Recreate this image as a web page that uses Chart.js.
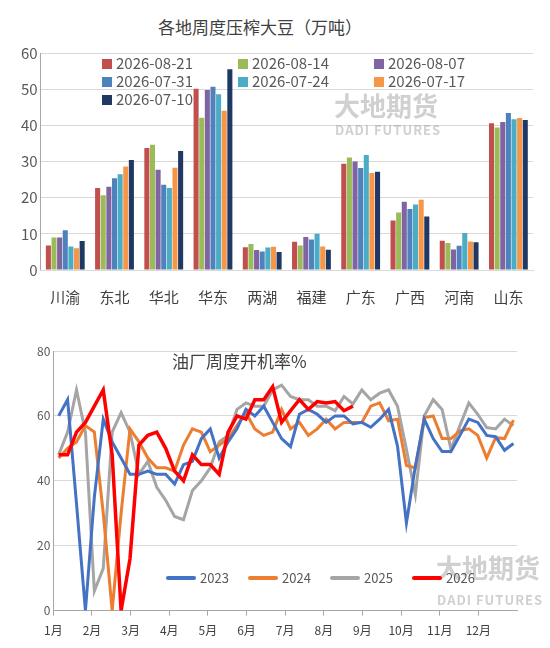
<!DOCTYPE html>
<html><head><meta charset="utf-8">
<script src="https://cdn.jsdelivr.net/npm/chart.js@4"></script>
<style>
body{margin:0;width:550px;height:648px;background:#fff;font-family:"Noto Sans CJK SC","Noto Sans",sans-serif;position:relative;overflow:hidden}
.c{position:absolute;left:0}
.t{position:absolute;color:#404040;white-space:nowrap}
.lg{position:absolute;font-size:15px;color:#595959;white-space:nowrap}
.lg i{display:inline-block;width:10px;height:10px;margin-right:4px;vertical-align:0px}
.wm{position:absolute;color:rgba(150,150,150,0.45);font-weight:bold;white-space:nowrap}
</style></head><body>
<div class="t" style="left:158px;top:14px;font-size:17px">各地周度压榨大豆（万吨）</div>
<div class="c" style="top:0;width:550px;height:320px"><canvas id="a"></canvas></div>
<div class="c" style="top:330px;width:550px;height:318px"><canvas id="b"></canvas></div>
<div class="wm" style="left:334px;top:86px;font-size:26px">大地期货</div>
<div class="wm" style="left:335px;top:120px;font-size:13px;letter-spacing:1px">DADI FUTURES</div>
<div class="wm" style="left:436px;top:548px;font-size:26px">大地期货</div>
<div class="wm" style="left:437px;top:590px;font-size:13px;letter-spacing:1px">DADI FUTURES</div>
<div id="lgA"></div>
<div class="t" style="left:172px;top:348px;font-size:17px">油厂周度开机率%</div>
<div id="lgB"></div>
<script>
const regions=['川渝','东北','华北','华东','两湖','福建','广东','广西','河南','山东'];
const weekLabels=['2026-08-21','2026-08-14','2026-08-07','2026-07-31','2026-07-24','2026-07-17','2026-07-10'];
const barColors=['#C0504D','#9BBB59','#8064A2','#4F81BD','#4BACC6','#F79646','#1F3864'];
const w0821=[6.8,22.7,33.7,50.1,6.3,7.8,29.4,13.7,8.1,40.6];
const w0814=[9.0,20.7,34.6,42.1,7.2,6.8,31.1,15.9,7.5,39.4];
const w0807=[9.0,23.0,27.7,49.8,5.5,9.1,30.0,18.9,5.7,40.9];
const w0731=[11.0,25.4,23.6,50.7,5.1,8.4,28.2,16.9,6.7,43.4];
const w0724=[6.5,26.5,22.7,48.6,6.2,10.0,31.8,18.1,10.2,41.7];
const w0717=[6.0,28.6,28.3,44.0,6.4,6.5,26.8,19.4,7.9,42.0];
const w0710=[8.0,30.4,32.9,55.5,5.0,5.6,27.2,14.8,7.7,41.5];
const barSeries=[w0821,w0814,w0807,w0731,w0724,w0717,w0710];

const months=['1月','2月','3月','4月','5月','6月','7月','8月','9月','10月','11月','12月'];
const years=['2023','2024','2025','2026'];
const lineColors=['#4472C4','#ED7D31','#A5A5A5','#FF0000'];
const y2023=[60,65,33,0,35,59,52,47,42,42,43,42,42,39,45,46,53,56,47,52,56,62,60,63,58,53,50.5,60.5,62,60.5,58,60,60,57.5,58,56.5,59,62,50.7,27,44.5,59,53,49,49,54,59,58,54,53.6,49.4,51.5];
const y2024=[47,50,52,57,55,30,0,30,56,52,47,44,44,43,51,56,55,49,51,53,57,61,56,54,55,62,56,58,54,56,59,56,58,58,58,63,64,58.5,59,44.7,44,59.5,60,53,53,55.4,56,54,47,53.3,53,58.7];
const y2025=[48,55,68,55,6,13,55,61,55,42,46,38,34,29,28,37,40,44,52,54,62,64,63,63,68,69.5,66,65,65,63,63,61.6,66,63.7,68,65,67,68,63,49.7,35.7,60,65,62,49.7,57,64,60.5,56.4,56,59,57];
const y2026=[48,48,55,58,63,68,48,0,16,51,54,55,50,43,40,48,45,45,42,55,60,59,65,65,69,58,61.6,65,62,64.4,64,64.4,61.6,63];
const yearSeries=[y2023,y2024,y2025,y2026];

let h='';
weekLabels.forEach((l,i)=>{const col=i%3,row=Math.floor(i/3);
h+=`<div class="lg" style="left:${102+col*136}px;top:${52+row*18}px"><i style="background:${barColors[i]}"></i>${l}</div>`;});
document.getElementById('lgA').innerHTML=h;
h='';
years.forEach((y,i)=>{h+=`<div class="lg" style="left:${166+i*82}px;top:568px;font-size:13px"><i style="width:30px;height:4px;border-radius:2px;vertical-align:3px;background:${lineColors[i]}"></i>${y}</div>`;});
document.getElementById('lgB').innerHTML=h;

Chart.defaults.font.family='"Noto Sans CJK SC","Noto Sans",sans-serif';
new Chart(document.getElementById('a'),{type:'bar',
data:{labels:regions,datasets:barSeries.map((d,i)=>({label:weekLabels[i],data:d,backgroundColor:barColors[i],categoryPercentage:0.8,barPercentage:0.9}))},
options:{responsive:true,maintainAspectRatio:false,animation:false,
layout:{padding:{top:53,right:17,bottom:4,left:18}},
plugins:{legend:{display:false},tooltip:{enabled:false}},
scales:{y:{min:0,max:60,ticks:{stepSize:10,color:'#595959',font:{size:15}},grid:{color:'#d9d9d9',drawTicks:false},border:{color:'#a6a6a6'}},
x:{ticks:{color:'#404040',font:{size:15},padding:10},grid:{display:false},border:{color:'#d9d9d9'}}}}});

new Chart(document.getElementById('b'),{type:'line',
data:{datasets:yearSeries.map((d,i)=>({label:years[i],data:d.map((v,k)=>({x:k+0.6,y:v})),borderColor:lineColors[i],borderWidth:i==3?3.5:3,pointRadius:0,tension:0,order:i==3?0:1}))},
options:{responsive:true,maintainAspectRatio:false,animation:false,
layout:{padding:{top:21,right:33,bottom:2,left:34}},
plugins:{legend:{display:false},tooltip:{enabled:false}},
scales:{y:{min:0,max:80,ticks:{stepSize:20,color:'#595959',font:{size:12}},grid:{color:'#d9d9d9',drawTicks:false},border:{color:'#a6a6a6'}},
x:{type:'linear',min:0,max:52,
afterBuildTicks:s=>{s.ticks=months.map((m,i)=>({value:i*52/12}));},
ticks:{autoSkip:false,maxRotation:0,color:'#404040',font:{size:12},padding:8,callback:(v,i)=>months[i]},
grid:{display:true,drawOnChartArea:false,tickLength:5,color:'#a6a6a6'},border:{color:'#a6a6a6'}}}}});
</script></body></html>
